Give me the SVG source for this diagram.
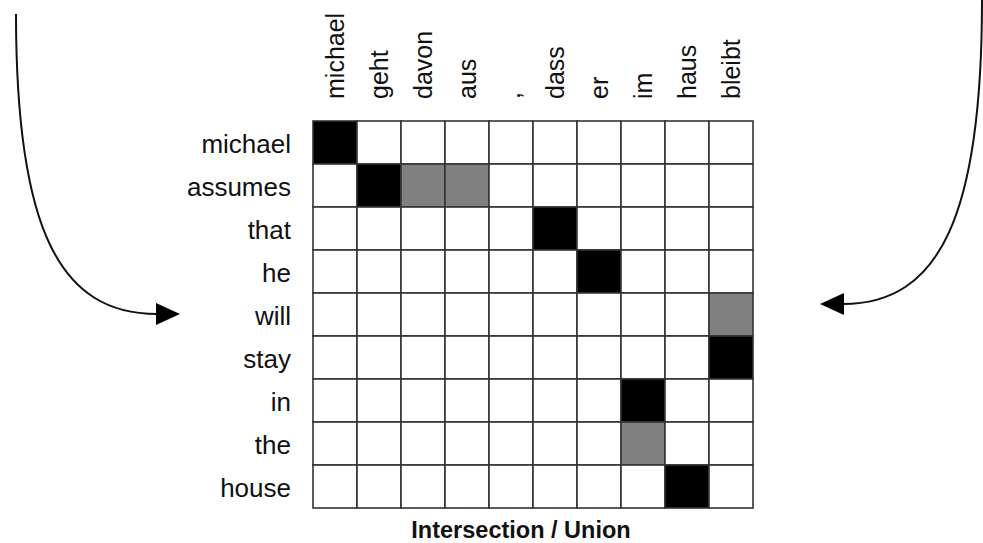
<svg xmlns="http://www.w3.org/2000/svg" width="983" height="543" viewBox="0 0 983 543">
  <style>
    .lbl { font-family: "Liberation Sans", Arial, sans-serif; font-size: 25px; fill: #111; }
    .row { text-anchor: end; font-size: 26px; }
    .title { font-family: "Liberation Sans", Arial, sans-serif; font-size: 23.5px; font-weight: bold; fill: #111; text-anchor: middle; }
    .cell { fill: #fff; stroke: #333; stroke-width: 1.6; }
    .blk { fill: #000; stroke: #333; stroke-width: 1.6; }
    .gry { fill: #808080; stroke: #333; stroke-width: 1.6; }
    .conn { fill: none; stroke: #111; stroke-width: 2; }
  </style>
  <defs>
    <marker id="arrow" markerUnits="userSpaceOnUse" markerWidth="24" markerHeight="22" refX="1" refY="11" orient="auto" viewBox="0 0 24 22">
      <path d="M0,0 L24,11 L0,22 z" fill="#000"/>
    </marker>
  </defs>
  <rect width="983" height="543" fill="#fff"/>

  <g id="column-labels" class="lbl">
    <text transform="translate(344,99) rotate(-90)">michael</text>
    <text transform="translate(388,99) rotate(-90)">geht</text>
    <text transform="translate(432,99) rotate(-90)">davon</text>
    <text transform="translate(476,99) rotate(-90)">aus</text>
    <text transform="translate(520,99) rotate(-90)">,</text>
    <text transform="translate(564,99) rotate(-90)">dass</text>
    <text transform="translate(608,99) rotate(-90)">er</text>
    <text transform="translate(652,99) rotate(-90)">im</text>
    <text transform="translate(696,99) rotate(-90)">haus</text>
    <text transform="translate(740,99) rotate(-90)">bleibt</text>
  </g>

  <g id="row-labels" class="lbl row">
    <text x="291" y="153">michael</text>
    <text x="291" y="196">assumes</text>
    <text x="291" y="239">that</text>
    <text x="291" y="282">he</text>
    <text x="291" y="325">will</text>
    <text x="291" y="368">stay</text>
    <text x="291" y="411">in</text>
    <text x="291" y="454">the</text>
    <text x="291" y="497">house</text>
  </g>

  <g id="matrix">
    <g id="row0">
      <rect class="blk" x="313" y="121" width="44" height="43"/>
      <rect class="cell" x="357" y="121" width="44" height="43"/>
      <rect class="cell" x="401" y="121" width="44" height="43"/>
      <rect class="cell" x="445" y="121" width="44" height="43"/>
      <rect class="cell" x="489" y="121" width="44" height="43"/>
      <rect class="cell" x="533" y="121" width="44" height="43"/>
      <rect class="cell" x="577" y="121" width="44" height="43"/>
      <rect class="cell" x="621" y="121" width="44" height="43"/>
      <rect class="cell" x="665" y="121" width="44" height="43"/>
      <rect class="cell" x="709" y="121" width="44" height="43"/>
    </g>
    <g id="row1">
      <rect class="cell" x="313" y="164" width="44" height="43"/>
      <rect class="blk" x="357" y="164" width="44" height="43"/>
      <rect class="gry" x="401" y="164" width="44" height="43"/>
      <rect class="gry" x="445" y="164" width="44" height="43"/>
      <rect class="cell" x="489" y="164" width="44" height="43"/>
      <rect class="cell" x="533" y="164" width="44" height="43"/>
      <rect class="cell" x="577" y="164" width="44" height="43"/>
      <rect class="cell" x="621" y="164" width="44" height="43"/>
      <rect class="cell" x="665" y="164" width="44" height="43"/>
      <rect class="cell" x="709" y="164" width="44" height="43"/>
    </g>
    <g id="row2">
      <rect class="cell" x="313" y="207" width="44" height="43"/>
      <rect class="cell" x="357" y="207" width="44" height="43"/>
      <rect class="cell" x="401" y="207" width="44" height="43"/>
      <rect class="cell" x="445" y="207" width="44" height="43"/>
      <rect class="cell" x="489" y="207" width="44" height="43"/>
      <rect class="blk" x="533" y="207" width="44" height="43"/>
      <rect class="cell" x="577" y="207" width="44" height="43"/>
      <rect class="cell" x="621" y="207" width="44" height="43"/>
      <rect class="cell" x="665" y="207" width="44" height="43"/>
      <rect class="cell" x="709" y="207" width="44" height="43"/>
    </g>
    <g id="row3">
      <rect class="cell" x="313" y="250" width="44" height="43"/>
      <rect class="cell" x="357" y="250" width="44" height="43"/>
      <rect class="cell" x="401" y="250" width="44" height="43"/>
      <rect class="cell" x="445" y="250" width="44" height="43"/>
      <rect class="cell" x="489" y="250" width="44" height="43"/>
      <rect class="cell" x="533" y="250" width="44" height="43"/>
      <rect class="blk" x="577" y="250" width="44" height="43"/>
      <rect class="cell" x="621" y="250" width="44" height="43"/>
      <rect class="cell" x="665" y="250" width="44" height="43"/>
      <rect class="cell" x="709" y="250" width="44" height="43"/>
    </g>
    <g id="row4">
      <rect class="cell" x="313" y="293" width="44" height="43"/>
      <rect class="cell" x="357" y="293" width="44" height="43"/>
      <rect class="cell" x="401" y="293" width="44" height="43"/>
      <rect class="cell" x="445" y="293" width="44" height="43"/>
      <rect class="cell" x="489" y="293" width="44" height="43"/>
      <rect class="cell" x="533" y="293" width="44" height="43"/>
      <rect class="cell" x="577" y="293" width="44" height="43"/>
      <rect class="cell" x="621" y="293" width="44" height="43"/>
      <rect class="cell" x="665" y="293" width="44" height="43"/>
      <rect class="gry" x="709" y="293" width="44" height="43"/>
    </g>
    <g id="row5">
      <rect class="cell" x="313" y="336" width="44" height="43"/>
      <rect class="cell" x="357" y="336" width="44" height="43"/>
      <rect class="cell" x="401" y="336" width="44" height="43"/>
      <rect class="cell" x="445" y="336" width="44" height="43"/>
      <rect class="cell" x="489" y="336" width="44" height="43"/>
      <rect class="cell" x="533" y="336" width="44" height="43"/>
      <rect class="cell" x="577" y="336" width="44" height="43"/>
      <rect class="cell" x="621" y="336" width="44" height="43"/>
      <rect class="cell" x="665" y="336" width="44" height="43"/>
      <rect class="blk" x="709" y="336" width="44" height="43"/>
    </g>
    <g id="row6">
      <rect class="cell" x="313" y="379" width="44" height="43"/>
      <rect class="cell" x="357" y="379" width="44" height="43"/>
      <rect class="cell" x="401" y="379" width="44" height="43"/>
      <rect class="cell" x="445" y="379" width="44" height="43"/>
      <rect class="cell" x="489" y="379" width="44" height="43"/>
      <rect class="cell" x="533" y="379" width="44" height="43"/>
      <rect class="cell" x="577" y="379" width="44" height="43"/>
      <rect class="blk" x="621" y="379" width="44" height="43"/>
      <rect class="cell" x="665" y="379" width="44" height="43"/>
      <rect class="cell" x="709" y="379" width="44" height="43"/>
    </g>
    <g id="row7">
      <rect class="cell" x="313" y="422" width="44" height="43"/>
      <rect class="cell" x="357" y="422" width="44" height="43"/>
      <rect class="cell" x="401" y="422" width="44" height="43"/>
      <rect class="cell" x="445" y="422" width="44" height="43"/>
      <rect class="cell" x="489" y="422" width="44" height="43"/>
      <rect class="cell" x="533" y="422" width="44" height="43"/>
      <rect class="cell" x="577" y="422" width="44" height="43"/>
      <rect class="gry" x="621" y="422" width="44" height="43"/>
      <rect class="cell" x="665" y="422" width="44" height="43"/>
      <rect class="cell" x="709" y="422" width="44" height="43"/>
    </g>
    <g id="row8">
      <rect class="cell" x="313" y="465" width="44" height="43"/>
      <rect class="cell" x="357" y="465" width="44" height="43"/>
      <rect class="cell" x="401" y="465" width="44" height="43"/>
      <rect class="cell" x="445" y="465" width="44" height="43"/>
      <rect class="cell" x="489" y="465" width="44" height="43"/>
      <rect class="cell" x="533" y="465" width="44" height="43"/>
      <rect class="cell" x="577" y="465" width="44" height="43"/>
      <rect class="cell" x="621" y="465" width="44" height="43"/>
      <rect class="blk" x="665" y="465" width="44" height="43"/>
      <rect class="cell" x="709" y="465" width="44" height="43"/>
    </g>
  </g>

  <g id="title">
    <text class="title" x="521" y="538">Intersection / Union</text>
  </g>

  <g id="connectors">
    <path class="conn" d="M16,14 C16,230 60,314 157,314" marker-end="url(#arrow)"/>
    <path class="conn" d="M982,0 C982,215 940,304 843,304" marker-end="url(#arrow)"/>
  </g>
</svg>
